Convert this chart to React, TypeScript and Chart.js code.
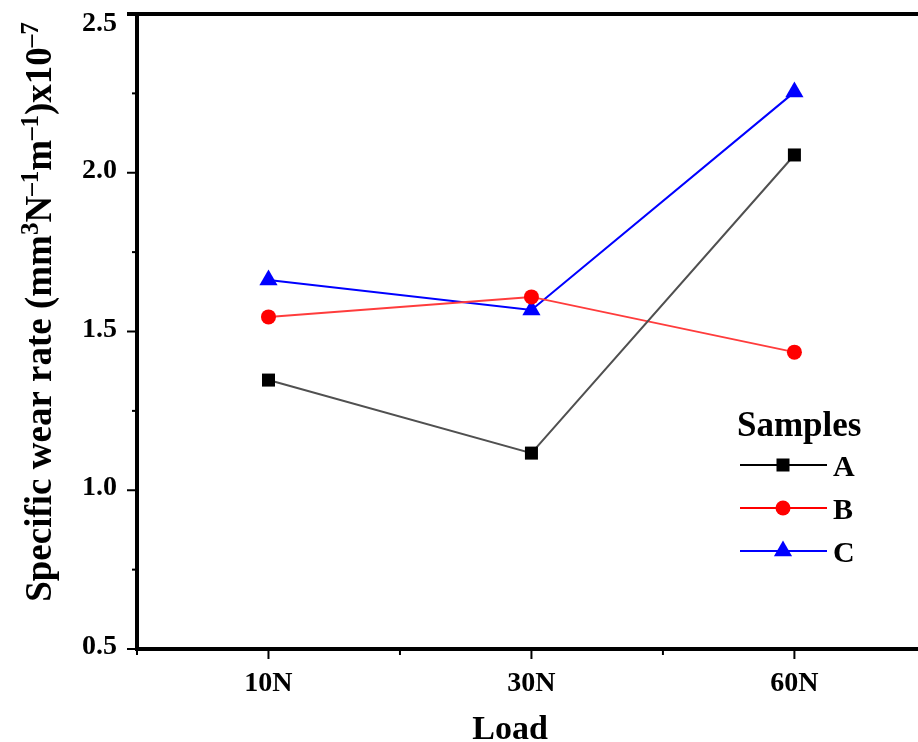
import React, { useEffect, useRef } from 'react';
import { Chart, registerables } from 'chart.js';

Chart.register(...registerables);

// ---- data ----
const categories = ['10N', '30N', '60N'];
const sampleA = [1.347, 1.117, 2.056];
const sampleB = [1.546, 1.609, 1.435];
const sampleC = [1.662, 1.568, 2.254];
const seriesLabels = ['A', 'B', 'C'];
const yMajorTicks = [0.5, 1.0, 1.5, 2.0, 2.5];
const yMinorTicks = [0.75, 1.25, 1.75, 2.25];
const xMinorTicks = [-0.5, 0.5, 1.5, 2.5];
const legendTitle = 'Samples';
const xTitle = 'Load';
const yTitleParts: [string, boolean][] = [
  ['Specific wear rate (mm', false],
  ['3', true],
  ['N', false],
  ['\u20131', true],
  ['m', false],
  ['\u20131', true],
  [')x10', false],
  ['\u20137', true],
];

const FONT = '"Liberation Serif", "Times New Roman", serif';

function drawMarker(ctx: CanvasRenderingContext2D, style: string, x: number, y: number, r: number, color: string) {
  ctx.save();
  ctx.fillStyle = color;
  ctx.beginPath();
  if (style === 'rect') {
    const s = Math.SQRT1_2 * r;
    ctx.rect(x - s, y - s, 2 * s, 2 * s);
  } else if (style === 'triangle') {
    let a = 0;
    ctx.moveTo(x + Math.sin(a) * r, y - Math.cos(a) * r);
    a += (2 * Math.PI) / 3;
    ctx.lineTo(x + Math.sin(a) * r, y - Math.cos(a) * r);
    a += (2 * Math.PI) / 3;
    ctx.lineTo(x + Math.sin(a) * r, y - Math.cos(a) * r);
    ctx.closePath();
  } else {
    ctx.arc(x, y, r, 0, Math.PI * 2);
  }
  ctx.fill();
  ctx.restore();
}

const decorPlugin = {
  id: 'decor',
  afterDraw(chart: any) {
    const { ctx, chartArea: ca, scales } = chart;
    const x = scales.x;
    const y = scales.y;
    ctx.save();
    ctx.strokeStyle = '#000';
    // top frame line
    ctx.lineWidth = 4;
    ctx.beginPath();
    ctx.moveTo(ca.left - 10, ca.top);
    ctx.lineTo(ca.right, ca.top);
    ctx.stroke();

    // y ticks
    ctx.lineWidth = 2;
    yMajorTicks.forEach((v) => {
      const py = y.getPixelForValue(v);
      ctx.beginPath();
      ctx.moveTo(ca.left - 10, py);
      ctx.lineTo(ca.left, py);
      ctx.stroke();
    });
    yMinorTicks.forEach((v) => {
      const py = y.getPixelForValue(v);
      ctx.beginPath();
      ctx.moveTo(ca.left - 5, py);
      ctx.lineTo(ca.left, py);
      ctx.stroke();
    });
    // x ticks
    categories.forEach((_, i) => {
      const px = x.getPixelForValue(i);
      ctx.beginPath();
      ctx.moveTo(px, ca.bottom);
      ctx.lineTo(px, ca.bottom + 10);
      ctx.stroke();
    });
    xMinorTicks.forEach((v) => {
      const px = x.getPixelForValue(v);
      ctx.beginPath();
      ctx.moveTo(px, ca.bottom);
      ctx.lineTo(px, ca.bottom + 6);
      ctx.stroke();
    });

    // y tick labels
    ctx.fillStyle = '#000';
    ctx.font = `bold 28px ${FONT}`;
    ctx.textAlign = 'right';
    ctx.textBaseline = 'middle';
    yMajorTicks.forEach((v) => {
      const py = Math.max(y.getPixelForValue(v) - 2, ca.top + 10);
      ctx.fillText(v.toFixed(1), ca.left - 20, py);
    });

    // x title
    ctx.font = `bold 34px ${FONT}`;
    ctx.textAlign = 'center';
    ctx.textBaseline = 'alphabetic';
    ctx.fillText(xTitle, 510, 739);

    // y title (rotated, with superscripts)
    const fs = 37;
    const sfs = 25;
    ctx.save();
    ctx.translate(51, 312);
    ctx.rotate(-Math.PI / 2);
    let total = 0;
    yTitleParts.forEach(([t, sup]) => {
      ctx.font = `bold ${sup ? sfs : fs}px ${FONT}`;
      total += ctx.measureText(t).width;
    });
    let cx = -total / 2;
    ctx.textAlign = 'left';
    yTitleParts.forEach(([t, sup]) => {
      ctx.font = `bold ${sup ? sfs : fs}px ${FONT}`;
      ctx.fillText(t, cx, sup ? -13 : 0);
      cx += ctx.measureText(t).width;
    });
    ctx.restore();

    // legend
    ctx.font = `bold 35px ${FONT}`;
    ctx.textAlign = 'left';
    ctx.fillText(legendTitle, 737, 436);
    const rowY = [465, 508, 551];
    chart.data.datasets.forEach((ds: any, i: number) => {
      const ly = rowY[i];
      ctx.strokeStyle = ds.legendLine;
      ctx.lineWidth = 2;
      ctx.beginPath();
      ctx.moveTo(740, ly);
      ctx.lineTo(827, ly);
      ctx.stroke();
      drawMarker(ctx, ds.pointStyle, 783, ly, ds.pointRadius, ds.pointBackgroundColor);
      ctx.fillStyle = '#000';
      ctx.font = `bold 30px ${FONT}`;
      ctx.fillText(ds.label, 833, ly + 11);
    });
    ctx.restore();
  },
};

export default function App() {
  const ref = useRef<HTMLCanvasElement>(null);
  useEffect(() => {
    if (!ref.current) return;
    const defs = [
      { data: sampleA, line: '#505050', legendLine: '#000000', mark: '#000000', style: 'rect', radius: 9.2 },
      { data: sampleB, line: '#ff3c3c', legendLine: '#ff0000', mark: '#ff0000', style: 'circle', radius: 7.5 },
      { data: sampleC, line: '#0000ff', legendLine: '#0000ff', mark: '#0000ff', style: 'triangle', radius: 10.5 },
    ];
    const chart = new Chart(ref.current, {
      type: 'line',
      data: {
        datasets: defs.map((d, i) => ({
          label: seriesLabels[i],
          data: d.data.map((v, j) => ({ x: j, y: v })),
          borderColor: d.line,
          borderWidth: 2,
          pointStyle: d.style,
          pointRadius: d.radius,
          pointBackgroundColor: d.mark,
          pointBorderColor: d.mark,
          pointBorderWidth: 0,
          legendLine: d.legendLine,
        })) as any,
      },
      options: {
        responsive: false,
        animation: false,
        layout: { autoPadding: false, padding: { top: 14, right: 0, left: 0, bottom: 0 } },
        plugins: { legend: { display: false }, tooltip: { enabled: false } },
        scales: {
          x: {
            type: 'linear',
            min: -0.5,
            max: 2.47,
            afterBuildTicks: (s: any) => {
              s.ticks = categories.map((_, i) => ({ value: i }));
            },
            afterFit: (s: any) => {
              s.height = 93;
              s.paddingLeft = 0;
              s.paddingRight = 0;
            },
            grid: { display: false, drawTicks: false },
            border: { display: true, width: 4, color: '#000' },
            ticks: {
              color: '#000',
              font: { family: FONT, size: 28, weight: 'bold' },
              padding: 18,
              maxRotation: 0,
              autoSkip: false,
              callback: (v: any) => categories[Math.round(v)] ?? '',
            },
          },
          y: {
            type: 'linear',
            min: 0.5,
            max: 2.5,
            afterFit: (s: any) => {
              s.width = 137;
              s.paddingTop = 0;
              s.paddingBottom = 0;
            },
            grid: { display: false, drawTicks: false },
            border: { display: true, width: 4, color: '#000' },
            ticks: { display: false },
          },
        },
      } as any,
      plugins: [decorPlugin],
    });
    return () => chart.destroy();
  }, []);
  return (
    <div style={{ position: 'fixed', left: 0, top: 0, width: 918, height: 742, background: '#fff' }}>
      <canvas ref={ref} width={918} height={742} />
    </div>
  );
}
